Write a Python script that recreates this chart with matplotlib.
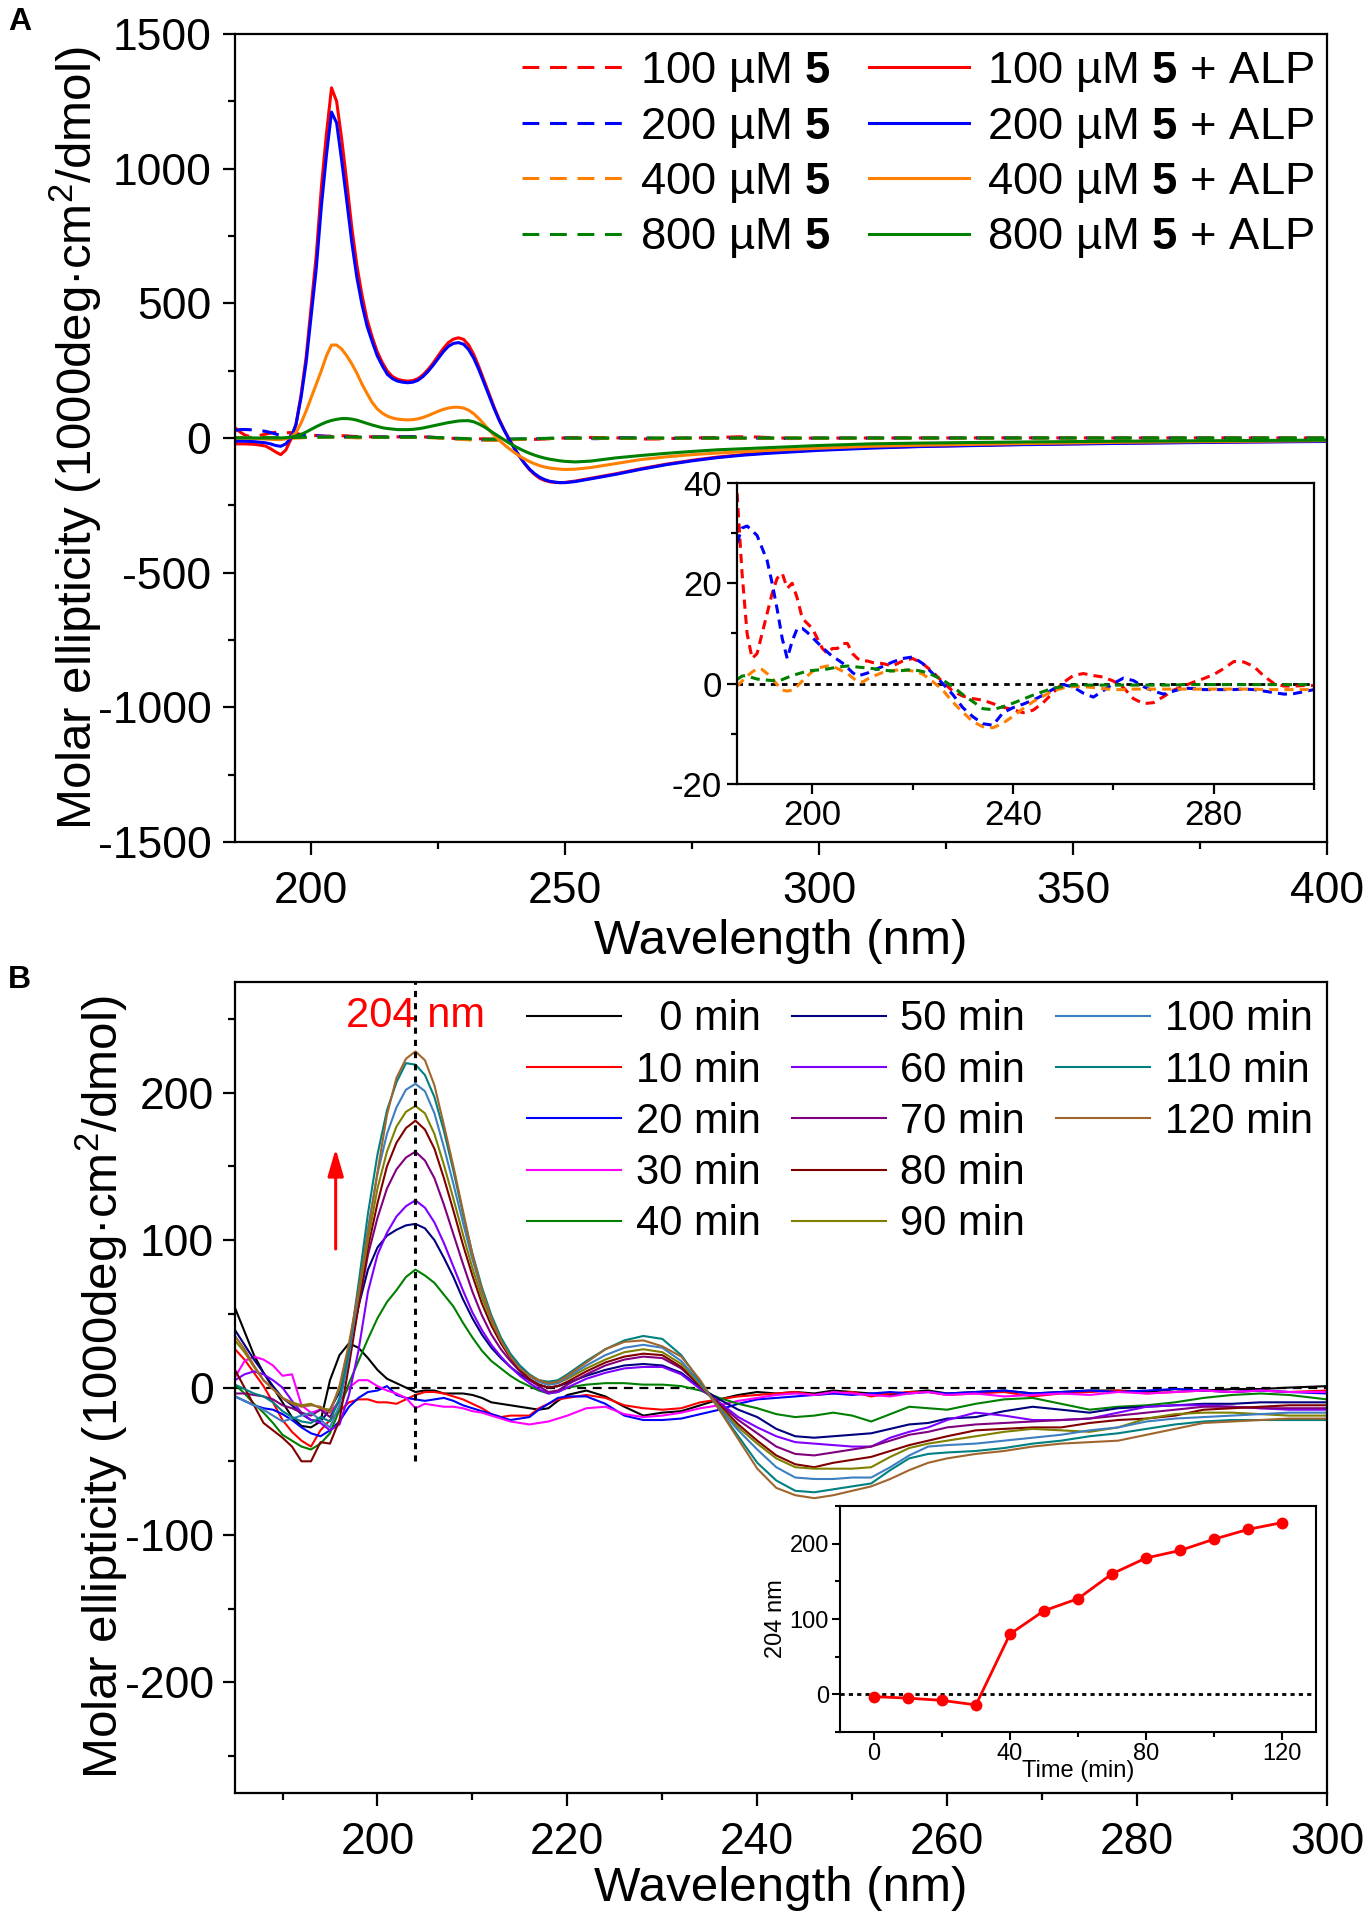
import matplotlib
matplotlib.use('Agg')
import matplotlib.pyplot as plt
from matplotlib.ticker import MultipleLocator
from matplotlib.lines import Line2D

plt.rcParams['font.family'] = ['Liberation Sans', 'DejaVu Sans']
plt.rcParams['mathtext.fontset'] = 'custom'
plt.rcParams['mathtext.rm'] = 'Liberation Sans'
plt.rcParams['mathtext.it'] = 'Liberation Sans:italic'
plt.rcParams['mathtext.bf'] = 'Liberation Sans:bold'
plt.rcParams['mathtext.default'] = 'regular'
plt.rcParams['axes.unicode_minus'] = False

# ---------------- Panel A data ----------------
conc = [100, 200, 400, 800]
colors_a = ['#FF0000', '#0000FF', '#FF8000', '#008000']

wl_a = [185, 187, 189, 191] + list(range(192, 251)) + [252, 255, 260, 265, 270, 275, 280, 285, 290, 300, 310, 320, 340, 360, 380, 400]

alp_100 = [-22, -22, -24, -30,
           -40, -52, -62, -45, -5, 50, 160, 300, 490, 680,
           930, 1130, 1300, 1250, 1110, 950, 780, 640, 530, 440,
           375, 320, 280, 248, 228, 218, 213, 211, 213, 220,
           234, 254, 278, 305, 332, 354, 367, 372, 366, 345,
           310, 265, 215, 165, 115, 70, 30, -5, -38, -68,
           -95, -118, -136, -150, -158, -163, -165, -166, -165,
           -160, -150, -133, -114, -97, -83, -71, -62, -55, -44, -36, -31, -24, -19, -15, -12]
alp_200 = [-12, -12, -14, -18,
           -22, -28, -31, -22, 0, 50, 150, 280, 455, 630,
           860, 1050, 1210, 1170, 1030, 880, 725, 595, 495, 415,
           358, 305, 268, 236, 220, 211, 207, 205, 207, 214,
           228, 247, 270, 295, 320, 340, 351, 354, 348, 328,
           296, 254, 206, 158, 110, 66, 28, -7, -39, -68,
           -94, -116, -133, -146, -155, -161, -164, -166, -166,
           -162, -152, -135, -116, -99, -85, -73, -64, -57, -46, -38, -32, -25, -20, -16, -13]
alp_400 = [0, 0, -2, -4,
           -5, -6, -6, -3, 3, 20, 55, 100, 150, 200,
           250, 305, 345, 345, 330, 305, 275, 240, 200, 165,
           132, 108, 92, 81, 74, 70, 68, 67, 68, 71,
           76, 83, 91, 99, 106, 111, 114, 114, 111, 103,
           90, 72, 52, 30, 10, -8, -25, -40, -54, -67,
           -78, -88, -96, -103, -108, -112, -114, -116, -117,
           -116, -110, -95, -80, -70, -62, -56, -51, -46, -38, -31, -27, -21, -16, -13, -10]
alp_800 = [0, 0, 0, 0,
           0, 0, 0, 1, 3, 7, 13, 22, 32, 42,
           51, 59, 65, 69, 72, 72, 70, 66, 60, 54,
           48, 43, 38, 35, 33, 31, 31, 31, 32, 34,
           37, 41, 45, 49, 53, 57, 60, 63, 64, 64,
           60, 52, 42, 30, 17, 5, -7, -19, -30, -40,
           -49, -57, -64, -70, -75, -79, -82, -85, -87,
           -89, -86, -74, -65, -57, -50, -44, -40, -36, -28, -22, -19, -15, -12, -10, -8]

wl_d = list(range(185, 213)) + list(range(214, 301, 2)) + [320, 340, 360, 380, 400]

only_100 = [38, 22, 10, 5, 6, 10, 14, 18, 21, 22,
            19, 20, 17, 13, 12, 11, 9, 7, 6, 7,
            7, 8, 8, 6, 5, 4.5, 4.5, 4.2,
            4, 3.5, 4.5, 5, 4, 2.3, 0.3, -1.5, -2.5, -3,
            -3.3, -4, -4.7, -5.2, -5.8, -5.3, -3.8, -1.8, 0.2, 1.6,
            2, 1.6, 1.3, 0.5, -0.8, -3, -4, -3.8, -2.6, -1.3,
            -0.5, 0.3, 1, 1.8, 3, 4.4, 4.3, 3.4, 1.5, 0,
            -0.5, -0.5, -0.4, -0.4,
            0, 0.5, 0, 0.3, 0]
only_200 = [28, 31, 31.4, 30.5, 29.5, 27, 24.5, 20, 14.8, 9,
            5, 8.5, 11, 11, 10.2, 9.2, 8.2, 7.2, 6.3, 5.4,
            4.8, 4.1, 3.2, 2.2, 1.5, 1.8, 2.1, 2.6,
            3.4, 4.3, 5, 5.3, 4, 2, 0, -2.2, -4.8, -6.6,
            -8, -8.3, -5.8, -4.8, -4.1, -3.3, -2.3, -1.1, -0.2, -0.7,
            -1.9, -2.7, -1.4, 0, 1.1, 0.6, -0.6, -1.5, -2.1, -1.5,
            -0.9, -1, -1.2, -1.2, -1.2, -1.2, -1.1, -1.2, -1.5, -1.8,
            -2.1, -2, -1.6, -1.2,
            -0.5, 0, -0.3, 0, 0]
only_400 = [-0.5, 0.5, 1.5, 2.3, 3, 2.8, 2, 1, -0.2, -1.3,
            -1.5, -1.3, -0.5, 0.5, 1.5, 2.4, 3.1, 3.3, 3.5, 3.5,
            3, 2.5, 2, 1.2, 0.4, 0.3, 0.9, 1.4,
            2.2, 2.6, 2.8, 2.5, 1.9, 0.4, -1.3, -3.7, -5.7, -7.6,
            -8.6, -8.8, -7.9, -6.5, -5, -3.6, -2.5, -1.4, -0.9, -0.6,
            -0.6, -0.8, -1, -1.2, -1.2, -1.1, -1.1, -1.1, -1.1, -1.1,
            -1.1, -1.1, -1.1, -1.1, -1.1, -1.1, -1.1, -1.1, -1.2, -1.2,
            -1.2, -1.2, -1.2, -1.2,
            -0.8, -0.5, -0.3, -0.2, 0]
only_800 = [0.8, 1.5, 1.6, 1.2, 0.9, 0.8, 0.7, 0.6, 0.5, 0.8,
            1.2, 1.6, 1.9, 2.2, 2.5, 2.6, 2.7, 2.8, 2.9, 3.1,
            3.3, 3.4, 3.5, 3.4, 3.3, 3.2, 3.1, 3,
            2.7, 2.5, 2.6, 2.8, 2.4, 1.7, 0.7, -0.6, -2.2, -3.6,
            -5, -5.2, -4.6, -3.9, -3.1, -2.3, -1.6, -0.9, -0.6, -0.3,
            -0.3, -0.3, -0.3, -0.3, -0.3, -0.3, -0.3, -0.3, -0.3, -0.3,
            -0.2, -0.2, -0.2, -0.2, -0.2, -0.2, -0.2, -0.2, -0.2, -0.2,
            -0.2, -0.2, -0.2, -0.2,
            0, 0, 0, 0, 0]

# ---------------- Panel B data ----------------
times = [0, 10, 20, 30, 40, 50, 60, 70, 80, 90, 100, 110, 120]
colors_b = ['#000000', '#FF0000', '#0000FF', '#FF00FF', '#008000', '#000080', '#8000FF',
            '#800080', '#800000', '#808000', '#3D7FC0', '#008080', '#A0652C']

wl_b = list(range(185, 221)) + list(range(222, 261, 2)) + [263, 266, 269, 272, 275, 278, 281, 284, 287, 290, 293, 296, 300]

t000 = [54, 38, 22, 10, 0, -10, -20, -26, -27, -23, 5, 22, 30, 27, 20, 12, 6, 3, 0, -3, -2, -2, -4, -4, -4, -5, -7, -10, -11, -12, -13, -14, -15, -14, -9, -5,
        -2, -6, -13, -19, -17, -16, -12, -8, -5, -3, -4, -3, -4, -2, -3, -4, -5, -3, -2, -4,
        -3, -2, -4, -3, -2, -2, -3, -1, -2, -1, -1, 0, 1]
t010 = [26, 19, 10, 1, -10, -22, -30, -36, -40, -29, -22, -16, -10, -8, -8, -10, -10, -11, -8, -5, -3, -3, -4, -6, -8, -11, -14, -18, -20, -19, -19, -19, -14, -11, -8, -7,
        -5, -7, -12, -14, -15, -14, -10, -8, -6, -5, -4, -3, -5, -4, -3, -6, -4, -3, -3, -5,
        -4, -3, -6, -4, -3, -2, -4, -3, -2, -3, -2, -3, -2]
t020 = [-6, -9, -12, -14, -15, -18, -22, -27, -31, -33, -29, -23, -13, -7, -3, -2, 1, -5, -7, -8, -9, -8, -7, -9, -12, -14, -16, -18, -20, -22, -21, -20, -15, -11, -7, -6,
        -6, -11, -19, -22, -22, -21, -18, -15, -11, -8, -7, -6, -5, -4, -5, -4, -3, -4, -3, -4,
        -3, -2, -4, -3, -2, -3, -2, -1, -2, -3, -2, -3, -4]
t030 = [7, 18, 21, 19, 15, 8, 9, -12, -17, -15, -17, -9, 0, 5, 5, 1, -2, -4, -7, -14, -11, -12, -13, -13, -14, -16, -17, -19, -21, -23, -24, -25, -24, -23, -21, -19,
        -14, -13, -18, -20, -19, -17, -14, -12, -9, -7, -5, -4, -5, -3, -4, -5, -6, -4, -3, -5,
        -4, -6, -5, -4, -5, -3, -4, -3, -2, -3, -2, -3, -3]
t040 = [2, -4, -11, -17, -24, -32, -36, -40, -42, -38, -31, -15, 3, 18, 33, 47, 58, 66, 75, 80, 76, 71, 63, 55, 44, 34, 25, 18, 13, 8, 4, 1, -2, -4, -3, 0,
        2, 3, 3, 2, 2, 1, -2, -7, -11, -14, -18, -20, -19, -17, -19, -23, -18, -13, -14, -15,
        -11, -8, -7, -11, -15, -13, -12, -10, -7, -5, -4, -5, -8]
t050 = [39, 29, 19, 10, 1, -7, -12, -18, -22, -23, -15, -3, 25, 55, 80, 95, 103, 107, 110, 111, 108, 100, 88, 75, 60, 47, 36, 27, 20, 14, 9, 5, 2, 0, 1, 3,
        8, 12, 15, 16, 15, 10, 0, -8, -15, -20, -28, -33, -34, -33, -32, -31, -28, -25, -24, -21,
        -20, -16, -13, -15, -17, -14, -13, -12, -11, -11, -10, -10, -10]
t060 = [5, 9, 11, 9, 5, 0, -9, -17, -22, -24, -29, -25, -5, 25, 65, 90, 105, 116, 123, 127, 122, 112, 98, 82, 66, 51, 39, 29, 21, 14, 8, 3, -1, -4, -3, 0,
        6, 10, 13, 14, 14, 9, -1, -10, -20, -27, -33, -37, -38, -39, -40, -40, -34, -30, -27, -22,
        -17, -19, -22, -22, -21, -17, -13, -12, -12, -13, -14, -15, -15]
t070 = [-4, -4, -5, -6, -8, -12, -14, -17, -19, -15, -20, -9, 20, 55, 90, 115, 135, 148, 156, 160, 154, 142, 124, 104, 84, 65, 49, 36, 26, 18, 11, 5, 1, -3, -2, 2,
        9, 15, 19, 21, 20, 13, 1, -11, -22, -31, -40, -45, -46, -44, -42, -40, -36, -32, -30, -27,
        -25, -24, -23, -22, -21, -19, -17, -15, -13, -13, -14, -14, -14]
t080 = [12, 0, -12, -24, -29, -34, -40, -50, -50, -37, -38, -22, 15, 55, 95, 125, 150, 166, 176, 181, 175, 162, 142, 120, 97, 76, 57, 42, 30, 20, 12, 6, 2, 0, 1, 4,
        11, 17, 21, 23, 22, 14, 1, -12, -25, -36, -46, -52, -54, -51, -49, -47, -43, -39, -36, -33,
        -29, -28, -27, -27, -24, -22, -21, -19, -15, -14, -13, -12, -12]
t090 = [32, 24, 14, 5, -1, -7, -10, -12, -11, -14, -15, -1, 25, 62, 100, 135, 160, 177, 187, 191, 186, 172, 151, 128, 104, 81, 61, 45, 32, 22, 14, 8, 4, 2, 3, 6,
        13, 19, 24, 26, 24, 16, 2, -13, -27, -38, -48, -54, -55, -55, -55, -54, -47, -41, -38, -36,
        -33, -30, -28, -29, -30, -27, -21, -18, -17, -17, -18, -19, -19]
t100 = [-6, -9, -12, -15, -19, -23, -21, -19, -17, -22, -27, -12, 22, 65, 108, 145, 172, 190, 202, 206, 201, 186, 163, 138, 112, 87, 65, 47, 33, 22, 14, 8, 4, 2, 3, 7,
        15, 22, 27, 29, 27, 18, 3, -14, -29, -42, -54, -61, -62, -62, -61, -61, -54, -46, -40, -39,
        -38, -36, -34, -32, -29, -27, -23, -21, -20, -19, -18, -17, -17]
t110 = [2, -1, -4, -6, -10, -16, -20, -23, -24, -20, -23, -7, 25, 70, 118, 158, 188, 207, 220, 219, 212, 197, 174, 147, 118, 91, 68, 49, 34, 23, 15, 9, 5, 4, 5, 9,
        18, 26, 32, 35, 33, 22, 4, -15, -33, -51, -63, -70, -71, -69, -67, -65, -56, -48, -45, -44,
        -43, -41, -38, -36, -33, -31, -28, -25, -23, -22, -22, -22, -22]
t120 = [35, 26, 15, 5, -1, -7, -11, -13, -12, -13, -17, 1, 30, 65, 105, 146, 185, 210, 223, 228, 222, 205, 178, 150, 120, 90, 66, 47, 32, 21, 13, 8, 5, 3, 4, 8,
        17, 26, 31, 32, 28, 21, 5, -15, -35, -55, -68, -73, -75, -73, -70, -67, -62, -56, -51, -48,
        -45, -43, -40, -38, -37, -36, -32, -28, -24, -23, -22, -21, -21]
series_b = [t000, t010, t020, t030, t040, t050, t060, t070, t080, t090, t100, t110, t120]

# Inset B: ellipticity at 204 nm vs time
peak_nm = 204
inset_time = [0, 10, 20, 30, 40, 50, 60, 70, 80, 90, 100, 110, 120]
inset_204 = [-3, -5, -8, -14, 80, 111, 127, 160, 181, 191, 206, 219, 228]

# ---------------- figure ----------------
FS_TICK = 32
FS_LAB = 35.5
fig = plt.figure(figsize=(13.72, 19.2), dpi=100)


def style(ax, fs, lw=1.6, maj=9, mino=5, xpad=4, ypad=4):
    for s in ax.spines.values():
        s.set_linewidth(lw)
    ax.tick_params(which='major', direction='out', length=maj, width=lw, labelsize=fs,
                   top=False, right=False)
    ax.tick_params(which='minor', direction='out', length=mino, width=lw, top=False, right=False)
    ax.tick_params(axis='x', which='major', pad=xpad)
    ax.tick_params(axis='y', which='major', pad=ypad)


# ---- Panel A ----
axA = fig.add_axes([0.1713, 0.5615, 0.7959, 0.4208])
dash = (0, (5.5, 3.5))
handles_d, handles_s = [], []
for c, col, y in zip(conc, colors_a, [only_100, only_200, only_400, only_800]):
    h, = axA.plot(wl_d, y, color=col, lw=2.2, ls=dash, label=f"{c} µM $\\mathbf{{5}}$")
    handles_d.append(h)
for c, col, y in zip(conc, colors_a, [alp_100, alp_200, alp_400, alp_800]):
    h, = axA.plot(wl_a, y, color=col, lw=2.2, label=f"{c} µM $\\mathbf{{5}}$ + ALP")
    handles_s.append(h)
axA.set_xlim(185, 400)
axA.set_ylim(-1500, 1500)
axA.xaxis.set_major_locator(MultipleLocator(50))
axA.xaxis.set_minor_locator(MultipleLocator(25))
axA.yaxis.set_major_locator(MultipleLocator(500))
axA.yaxis.set_minor_locator(MultipleLocator(250))
style(axA, FS_TICK, xpad=12, ypad=8)
axA.set_xlabel('Wavelength (nm)', fontsize=FS_LAB)
axA.set_ylabel('Molar ellipticity (1000deg·cm$^2$/dmol)', fontsize=FS_LAB)
axA.xaxis.set_label_coords(0.5, -0.096)
axA.yaxis.set_label_coords(-0.12, 0.5)
axA.legend(handles_d + handles_s, [h.get_label() for h in handles_d + handles_s],
           ncol=2, loc='upper right', bbox_to_anchor=(0.997, 0.991), frameon=False,
           fontsize=32.7, handlelength=2.2, handletextpad=0.4, columnspacing=0.85,
           labelspacing=0.25, borderaxespad=0.1, borderpad=0.1)
fig.text(0.006, 0.9885, 'A', fontsize=23, fontweight='bold', ha='left', va='center')

# ---- Inset A ----
axIA = fig.add_axes([0.5372, 0.5917, 0.4206, 0.1568])
for col, y in zip(colors_a, [only_100, only_200, only_400, only_800]):
    axIA.plot(wl_d, y, color=col, lw=2.2, ls=(0, (3, 2)))
axIA.axhline(0, color='black', lw=2, ls=(0, (2, 2)), zorder=0)
axIA.set_xlim(185, 300)
axIA.set_ylim(-20, 40)
axIA.xaxis.set_major_locator(MultipleLocator(40))
axIA.xaxis.set_minor_locator(MultipleLocator(20))
axIA.yaxis.set_major_locator(MultipleLocator(20))
axIA.yaxis.set_minor_locator(MultipleLocator(10))
style(axIA, 25, lw=1.6, maj=7, mino=4)

# ---- Panel B ----
axB = fig.add_axes([0.1713, 0.0661, 0.7959, 0.4224])
handles_b = []
for t, col, y in zip(times, colors_b, series_b):
    lab = f"  {t} min" if t < 10 else f"{t} min"
    h, = axB.plot(wl_b, y, color=col, lw=1.5, label=lab)
    handles_b.append(h)
blank = [Line2D([], [], color='none'), Line2D([], [], color='none')]
axB.axhline(0, color='black', lw=1.6, ls=(0, (4, 3)), zorder=0)
axB.vlines(peak_nm, -50, 275, color='black', lw=2.2, ls=(0, (2, 2)))
axB.set_xlim(185, 300)
axB.set_ylim(-275, 275)
axB.xaxis.set_major_locator(MultipleLocator(20))
axB.xaxis.set_minor_locator(MultipleLocator(10))
axB.yaxis.set_major_locator(MultipleLocator(100))
axB.yaxis.set_minor_locator(MultipleLocator(50))
style(axB, FS_TICK, xpad=12, ypad=6)
axB.set_xlabel('Wavelength (nm)', fontsize=FS_LAB)
axB.set_ylabel('Molar ellipticity (1000deg·cm$^2$/dmol)', fontsize=FS_LAB)
axB.xaxis.set_label_coords(0.5, -0.09)
axB.yaxis.set_label_coords(-0.096, 0.5)
axB.legend(handles_b + blank, [h.get_label() for h in handles_b] + [' ', ' '],
           ncol=3, loc='upper right', bbox_to_anchor=(0.9945, 0.989), frameon=False,
           fontsize=30, handlelength=2.25, handletextpad=0.35, columnspacing=0.75,
           labelspacing=0.27, borderaxespad=0.1, borderpad=0.1)
axB.text(peak_nm, 252, '204 nm', color='#FF0000', fontsize=30, ha='center', va='center')
axB.annotate('', xy=(195.6, 162), xytext=(195.6, 94),
             arrowprops=dict(arrowstyle='-|>,head_length=0.55,head_width=0.16', color='#FF0000',
                             lw=2.2, mutation_scale=30, shrinkA=0, shrinkB=0))
fig.text(0.006, 0.4896, 'B', fontsize=23, fontweight='bold', ha='left', va='center')

# ---- Inset B ----
axIB = fig.add_axes([0.6122, 0.0979, 0.347, 0.1177])
axIB.plot(inset_time, inset_204, color='#FF0000', lw=2, marker='o', markersize=7.5)
axIB.axhline(0, color='black', lw=2, ls=(0, (1.5, 1.5)), zorder=0)
axIB.set_xlim(-10, 130)
axIB.set_ylim(-50, 250)
axIB.xaxis.set_major_locator(MultipleLocator(40))
axIB.xaxis.set_minor_locator(MultipleLocator(20))
axIB.yaxis.set_major_locator(MultipleLocator(100))
axIB.yaxis.set_minor_locator(MultipleLocator(50))
style(axIB, 17, lw=1.5, maj=6, mino=3.5, xpad=2, ypad=2)
axIB.set_xlabel('Time (min)', fontsize=17, labelpad=-4)
axIB.set_ylabel('204 nm', fontsize=17, labelpad=2)

fig.savefig('out.png', dpi=100)
